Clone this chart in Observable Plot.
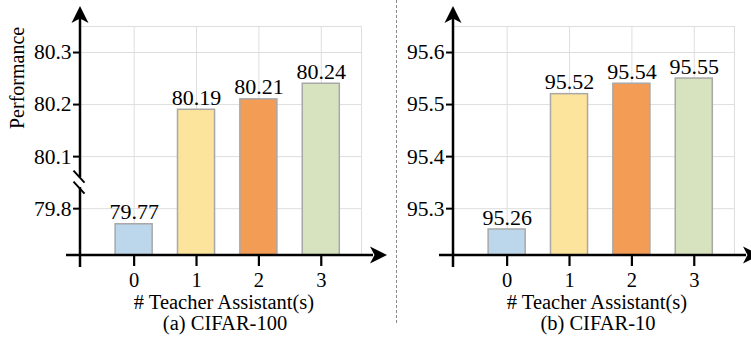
<!DOCTYPE html>
<html><head><meta charset="utf-8">
<script src="https://cdn.jsdelivr.net/npm/d3@7"></script>
<script src="https://cdn.jsdelivr.net/npm/@observablehq/plot@0.6"></script>
<style>
body{margin:0;background:#fff;}
#wrap{position:relative;width:751px;height:337px;overflow:hidden;background:#fff;}
.panel{position:absolute;top:0;}
.panel svg{overflow:visible;}
.panel svg text{font-family:"Liberation Serif","Times New Roman",serif !important;}
#sep{position:absolute;left:396px;top:0;width:0;height:323px;border-left:1px dashed #8a8a8a;}
</style></head>
<body><div id="wrap"><div id="sep"></div></div>
<script>
const categories = [0, 1, 2, 3];
const cifar100Values = [79.77, 80.19, 80.21, 80.24];
const cifar10Values = [95.26, 95.52, 95.54, 95.55];
const barColors = ["#bcd7ec", "#fde49c", "#f39c56", "#d7e3bf"];
const cifar100Ticks = [79.8, 80.1, 80.2, 80.3];
const cifar10Ticks = [95.3, 95.4, 95.5, 95.6];
const xTitle = "# Teacher Assistant(s)";
const yTitle = "Performance";
const subtitles = ["(a) CIFAR-100", "(b) CIFAR-10"];

const FONT = '"Liberation Serif", "Times New Roman", serif';
const GRID = "#dedede";

function arrowHead(g, tipX, tipY, dir) {
  const L = 17, W = 8.5, B = 4.5;
  let pts;
  if (dir === "up") pts = [[tipX, tipY], [tipX - W, tipY + L], [tipX, tipY + L - B], [tipX + W, tipY + L]];
  else pts = [[tipX, tipY], [tipX - L, tipY - W], [tipX - L + B, tipY], [tipX - L, tipY + W]];
  g.append("path").attr("d", "M" + pts.map(p => p.join(",")).join("L") + "Z").attr("fill", "#000");
}

function panel({values, ticks, cut, shift, yDomain, subtitle, showYTitle, left}) {
  const disp = v => (cut != null && v < cut) ? v + shift : v;
  const data = categories.map((c, i) => ({c, v: values[i], y: disp(values[i]), color: barColors[i]}));
  const tickDisp = ticks.map(disp);
  const tickLabel = d => { const i = tickDisp.findIndex(t => Math.abs(t - d) < 1e-9); return i < 0 ? "" : String(ticks[i]); };
  const xDomain = [-0.86, 3.645];
  const T = {fontFamily: FONT, fill: "#000"};
  const marks = [
    Plot.gridY(tickDisp, {stroke: GRID, strokeOpacity: 1, strokeWidth: 1}),
    Plot.gridX(categories, {stroke: GRID, strokeOpacity: 1, strokeWidth: 1}),
    Plot.frame({stroke: GRID, strokeWidth: 1}),
    Plot.rectY(data, {x1: d => d.c - 0.297, x2: d => d.c + 0.297, y1: () => yDomain[0], y2: "y", fill: "color", stroke: "#a8a8a8", strokeWidth: 1.5}),
    Plot.text(data, {x: "c", y: "y", text: d => d3.format(".2f")(d.v), dy: -12, fontSize: 22, ...T}),
    Plot.axisY(tickDisp, {tickSize: 7, tickPadding: 2, tickFormat: tickLabel, stroke: "#000", strokeWidth: 2, label: null, fontSize: 21.5, ...T}),
    Plot.axisX(categories, {tickSize: 11, tickPadding: 6, stroke: "#000", strokeWidth: 2.2, label: null, fontSize: 20.5, ...T}),
    Plot.text([xTitle], {frameAnchor: "bottom", dy: 53, dx: 3, text: d => d, fontSize: 20.5, ...T}),
    Plot.text([subtitle], {frameAnchor: "bottom", dy: 74, dx: 4, text: d => d, fontSize: 20.5, ...T})
  ];
  if (showYTitle) marks.push(Plot.text([yTitle], {frameAnchor: "left", rotate: -90, dx: -63, dy: -12, text: d => d, fontSize: 20, ...T}));
  const svg = Plot.plot({
    width: 376, height: 337,
    marginLeft: 80, marginRight: 15, marginTop: 26, marginBottom: 82,
    style: {fontFamily: FONT, fontSize: "20px", color: "#000", background: "transparent", overflow: "visible"},
    x: {domain: xDomain, axis: null},
    y: {domain: yDomain, axis: null},
    color: {type: "identity"},
    marks
  });
  const sx = svg.scale("x"), sy = svg.scale("y");
  const x0 = sx.apply(xDomain[0]), x1 = sx.apply(xDomain[1]);
  const yb = sy.apply(yDomain[0]), yt = sy.apply(yDomain[1]);
  const g = d3.select(svg).append("g");
  g.append("line").attr("x1", x0).attr("x2", x0).attr("y1", yb + 12).attr("y2", yt - 10).attr("stroke", "#000").attr("stroke-width", 2.5);
  arrowHead(g, x0, yt - 20, "up");
  g.append("line").attr("x1", x0 - 14).attr("x2", x1 + 12).attr("y1", yb).attr("y2", yb).attr("stroke", "#000").attr("stroke-width", 2.5);
  arrowHead(g, x1 + 26, yb, "right");
  if (cut != null) {
    const mid = sy.apply((tickDisp[0] + tickDisp[1]) / 2);
    g.append("rect").attr("x", x0 - 3).attr("y", mid - 5).attr("width", 6).attr("height", 10).attr("fill", "#fff");
    for (const off of [-5.5, 5.5]) {
      g.append("line").attr("x1", x0 - 6.5).attr("y1", mid + off - 6).attr("x2", x0 + 4.5).attr("y2", mid + off + 6).attr("stroke", "#000").attr("stroke-width", 2);
    }
  }
  const div = document.createElement("div");
  div.className = "panel";
  div.style.left = left + "px";
  div.appendChild(svg);
  document.getElementById("wrap").appendChild(div);
}

panel({values: cifar100Values, ticks: cifar100Ticks, cut: 79.9, shift: 0.2, yDomain: [79.91, 80.35], subtitle: subtitles[0], showYTitle: true, left: 0});
panel({values: cifar10Values, ticks: cifar10Ticks, cut: null, shift: 0, yDomain: [95.21, 95.65], subtitle: subtitles[1], showYTitle: false, left: 373});
</script></body></html>
